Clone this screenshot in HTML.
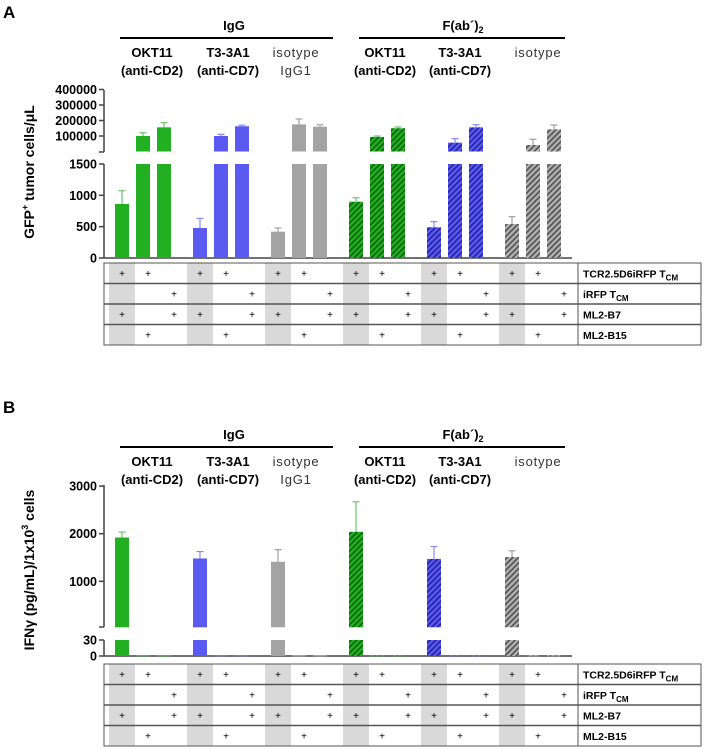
<!DOCTYPE html>
<html><head><meta charset="utf-8">
<style>
html,body{margin:0;padding:0;background:#fff;}
svg{display:block;font-family:"Liberation Sans",Arial,sans-serif;}
</style></head>
<body>
<svg id="fig" width="706" height="749" viewBox="0 0 706 749">
<defs>
<pattern id="hg" patternUnits="userSpaceOnUse" width="4" height="4" patternTransform="rotate(45)"><rect width="4" height="4" fill="#22b022"/><rect width="1.6" height="4" fill="#0b640b"/></pattern>
<pattern id="hb" patternUnits="userSpaceOnUse" width="4" height="4" patternTransform="rotate(45)"><rect width="4" height="4" fill="#5a5af0"/><rect width="1.6" height="4" fill="#2222a0"/></pattern>
<pattern id="hy" patternUnits="userSpaceOnUse" width="4" height="4" patternTransform="rotate(45)"><rect width="4" height="4" fill="#b0b0b0"/><rect width="1.6" height="4" fill="#505050"/></pattern>
</defs>
<g id="root"></g>
</svg>
<script>
const categories = ["OKT11 IgG","T3-3A1 IgG","isotype IgG1","OKT11 F(ab')2","T3-3A1 F(ab')2","isotype F(ab')2"];
const valuesA = [[862,100000,156000],[479,100000,163000],[420,175000,160000],[898,94000,150000],[490,57000,156000],[542,42000,143000]];
const errA = [[1074,121000,186000],[633,111000,170000],[479,210000,172000],[962,100000,158000],[580,83000,173000],[659,79000,171000]];
const valuesB = [[1920,1,1],[1480,1,1],[1410,1,1],[2040,1,1],[1470,1,1],[1510,1,1]];
const errB = [[2035,0,0],[1625,0,0],[1665,0,0],[2670,0,0],[1730,0,0],[1640,0,0]];
const ticksAUpper = [100000,200000,300000,400000];
const ticksALower = [0,500,1000,1500];
const ticksBUpper = [1000,2000,3000];
const ticksBLower = [0,30];
const tableRows = ["TCR2.5D6iRFP","iRFP","ML2-B7","ML2-B15"];
const tableMarks = [[1,1,0],[0,0,1],[1,0,1],[0,1,0]];

const NS="http://www.w3.org/2000/svg";
const root=document.getElementById('root');
function el(tag,attrs,parent,text){const e=document.createElementNS(NS,tag);for(const k in attrs)e.setAttribute(k,attrs[k]);if(text!==undefined)e.textContent=text;(parent||root).appendChild(e);return e;}

const solid=["#22b022","#5a5af0","#a3a3a3"];
const hatch=["url(#hg)","url(#hb)","url(#hy)"];
const errCol=["#6cc46c","#8a8aee","#a0a0a0"];
function barX(g,k){return 115+78*g+21*k;}

const yAu=v=>151.5-v*15.5/100000;
const yAl=v=>258-Math.min(v,1500)*94/1500;
const yBu=v=>628.9-v*0.0476;
const yBl=v=>656-Math.min(v,30)*16/30;

function headers(y0,isB){
  const g=el('g',{});
  
  
  let t=el('text',{x:234,y:y0,'font-size':13,'font-weight':'bold','text-anchor':'middle'},g,'IgG');
  
  el('line',{x1:120,x2:333,y1:y0+8,y2:y0+8,stroke:'#000','stroke-width':2},g);
  t=el('text',{x:463,y:y0,'font-size':13,'font-weight':'bold','text-anchor':'middle'},g);
  t.innerHTML='F(ab´)<tspan font-size="9" dy="3">2</tspan>';
  
  el('line',{x1:359,x2:565,y1:y0+8,y2:y0+8,stroke:'#000','stroke-width':2},g);
  const l1=y0+27,l2=y0+45;
  const labs=[[152,'OKT11','(anti-CD2)'],[228,'T3-3A1','(anti-CD7)'],[385,'OKT11','(anti-CD2)'],[460,'T3-3A1','(anti-CD7)']];
  labs.forEach(a=>{
    el('text',{x:a[0],y:l1,'font-size':13,'font-weight':'bold','text-anchor':'middle'},g,a[1]);
    el('text',{x:a[0],y:l2,'font-size':13,'font-weight':'bold','text-anchor':'middle'},g,a[2]);
  });
  el('text',{x:296,y:l1,'font-size':13,'text-anchor':'middle','letter-spacing':'0.8','fill':'#333'},g,'isotype');
  el('text',{x:296,y:l2,'font-size':13,'text-anchor':'middle','letter-spacing':'0.8','fill':'#333'},g,'IgG1');
  el('text',{x:538,y:l1,'font-size':13,'text-anchor':'middle','letter-spacing':'0.8','fill':'#333'},g,'isotype');
}

function table(top,name){
  const g=el('g',{});
  
  
  const rh=20.5, left=104, right=701, div=578;
  for(let gi=0;gi<6;gi++) el('rect',{x:109+78*gi,y:top,width:26,height:rh*4,fill:'#d9d9d9'},g);
  el('rect',{x:left,y:top,width:right-left,height:rh*4,fill:'none',stroke:'#555','stroke-width':1},g);
  for(let r=1;r<4;r++) el('line',{x1:left,x2:right,y1:top+rh*r,y2:top+rh*r,stroke:'#555','stroke-width':1.5},g);
  el('line',{x1:div,x2:div,y1:top,y2:top+rh*4,stroke:'#555'},g);
  for(let r=0;r<4;r++){
    for(let gi=0;gi<6;gi++)for(let k=0;k<3;k++){
      if(tableMarks[r][k]){
        const t=el('text',{x:122+78*gi+26*k,y:top+rh*r+14,'font-size':10,'text-anchor':'middle'},g,'+');
        
        
      }
    }
    const t=el('text',{x:583,y:top+rh*r+14.5,'font-size':10.5,'font-weight':'bold'},g);
    if(r<2) t.innerHTML=tableRows[r]+'  T<tspan font-size="8" dy="3">CM</tspan>'; else t.textContent=tableRows[r];
    
    
  }
}

function bars(vals,errs,upper,lower,uBase,lBase,lMaxY,lCap,panel){
  for(let gi=0;gi<6;gi++)for(let k=0;k<3;k++){
    const v=vals[gi][k],e=errs[gi][k],c=gi%3,fill=gi<3?solid[c]:hatch[c],x=barX(gi,k);
    const bg=el('g',{});
    
    
    const ly=lower(v);
    el('rect',{x:x,y:ly,width:14,height:Math.max(lBase-ly,0.8),fill:fill},bg);
    let topY=ly;
    if(v>lCap){
      const uy=upper(v);
      el('rect',{x:x,y:uy,width:14,height:uBase-uy,fill:fill},bg);
      topY=uy;
    }
    if(e>v){
      const ey=e>lCap?upper(e):lower(e);
      el('line',{x1:x+7,x2:x+7,y1:ey,y2:topY,stroke:errCol[c],'stroke-width':1.2},bg);
      el('line',{x1:x+3.5,x2:x+10.5,y1:ey,y2:ey,stroke:errCol[c],'stroke-width':1.2},bg);
    }
  }
}

function axisTicks(ticks,scale,name){
  ticks.forEach(t=>{
    const y=scale(t);
    el('line',{x1:99,x2:104,y1:y,y2:y,stroke:'#444','stroke-width':1.5});
    const tx=el('text',{x:97,y:y+4.5,'font-size':12.5,'font-weight':'bold','text-anchor':'end'},root,String(t));
    
    
  });
}

// Panel A
let t=el('text',{x:3,y:18,'font-size':17,'font-weight':'bold'},root,'A');

headers(30,false);
el('line',{x1:104,x2:104,y1:90,y2:152,stroke:'#444','stroke-width':1.5});
el('line',{x1:99,x2:104,y1:152,y2:152,stroke:'#444','stroke-width':1.5});
el('line',{x1:104,x2:104,y1:164,y2:258,stroke:'#444','stroke-width':1.5});
el('line',{x1:104,x2:572,y1:258,y2:258,stroke:'#444','stroke-width':1.5});
axisTicks(ticksAUpper,yAu,'y-tick-a-upper');
axisTicks(ticksALower,yAl,'y-tick-a-lower');
t=el('text',{x:0,y:0,'font-size':14,'font-weight':'bold','text-anchor':'middle',transform:'translate(34,172) rotate(-90)'});
t.innerHTML='GFP<tspan font-size="9" dy="-6">+</tspan><tspan dy="6"> tumor cells/μL</tspan>';

bars(valuesA,errA,yAu,yAl,151.5,258,164,1500,'a');
table(263,'condition-table-a');

// Panel B
t=el('text',{x:3,y:413,'font-size':17,'font-weight':'bold'},root,'B');

headers(439,true);
el('line',{x1:104,x2:104,y1:485,y2:627,stroke:'#444','stroke-width':1.5});
el('line',{x1:99,x2:104,y1:627,y2:627,stroke:'#444','stroke-width':1.5});
el('line',{x1:104,x2:104,y1:640,y2:656,stroke:'#444','stroke-width':1.5});
el('line',{x1:104,x2:572,y1:656,y2:656,stroke:'#444','stroke-width':1.5});
axisTicks(ticksBUpper,yBu,'y-tick-b-upper');
axisTicks(ticksBLower,yBl,'y-tick-b-lower');
t=el('text',{x:0,y:0,'font-size':14,'font-weight':'bold','text-anchor':'middle',transform:'translate(34,570) rotate(-90)'});
t.innerHTML='IFNγ (pg/mL)/1x10<tspan font-size="9" dy="-6">3</tspan><tspan dy="6"> cells</tspan>';

bars(valuesB,errB,yBu,yBl,627.3,656,640,30,'b');
table(664,'condition-table-b');
</script>
</body></html>
